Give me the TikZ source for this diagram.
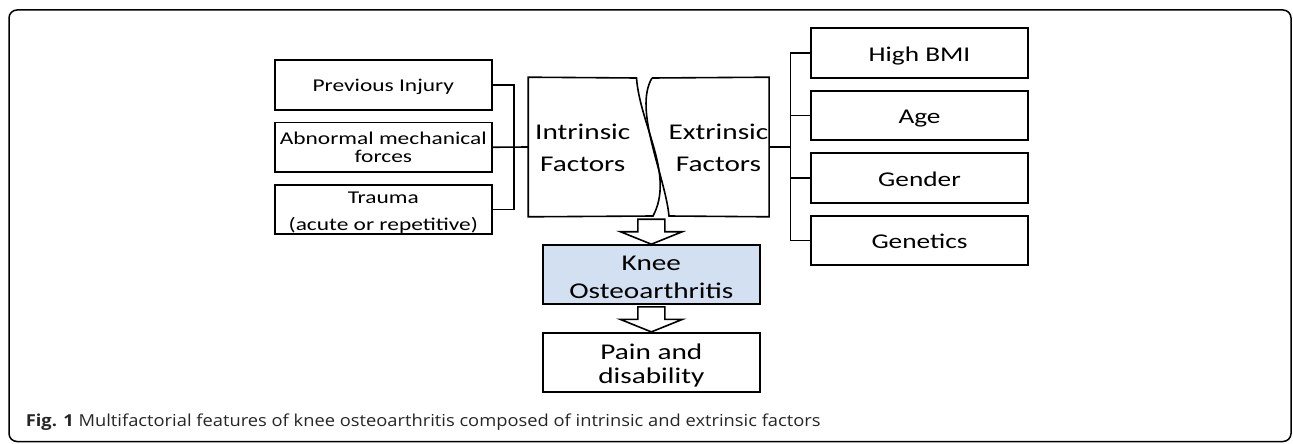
\documentclass[tikz,border=0pt]{standalone}
\usepackage{fontspec}
\usetikzlibrary{calc}

\newfontfamily\boxfont{Carlito}[FakeStretch=1.3]
\newfontfamily\capfont{Open Sans}[FakeStretch=1.11]
\definecolor{kneeblue}{RGB}{210,224,242}

% hollow block arrow ending on a node anchor
\newcommand{\hollowarrow}[1]{%
  \draw[hollow] ($(#1)+(-13.5,-25)$) -- ($(#1)+(13.5,-25)$) -- ($(#1)+(13.5,-12.5)$)
    -- ($(#1)+(31,-12.5)$) -- (#1) -- ($(#1)+(-31,-12.5)$) -- ($(#1)+(-13.5,-12.5)$) -- cycle;}

\begin{document}
\begin{tikzpicture}[x=1pt, y=-1pt, line width=1.6pt, every node/.style={inner sep=0pt},
    cause/.style={draw, rectangle, minimum width=217pt, minimum height=49.5pt, align=center,
      text height=13.4pt, text depth=0pt, font=\boxfont\fontsize{18}{21}\selectfont},
    risk/.style={cause, text height=16.5pt, font=\boxfont\fontsize{21}{24}\selectfont},
    factor/.style={rectangle, minimum height=138pt, align=center, text height=49.4pt,
      text depth=0pt, font=\boxfont\fontsize{22.5}{32.7}\selectfont},
    result/.style={draw, rectangle, minimum width=217.3pt, minimum height=59pt, align=center,
      text height=47.6pt, text depth=0pt, font=\boxfont\fontsize{22.5}{27.6}\selectfont},
    hollow/.style={draw, fill=white, line join=miter}]

      \useasboundingbox (0,0) rectangle (1293,444);

      % Outer frame
      \draw[line width=1.5pt, rounded corners=8pt] (9,10) rectangle (1291,441.5);

      % Intrinsic and extrinsic factors
      \node[factor, minimum width=107.5pt] (intr) at (582.75,147) {Intrinsic\\Factors};
      \node[factor, minimum width=99pt] (extr) at (718.5,147) {Extrinsic\\Factors};
      \draw (intr.north west) -- (636.5,78) .. controls (640,125) and (675,175) .. (653,216)
        -- (intr.south west) -- cycle;
      \draw (652,78) -- (extr.north east) -- (extr.south east) -- (669,216)
        .. controls (665,175) and (633,110) .. (652,78);

      % Intrinsic causes on the left
      \node[cause] (l1) at (383.3,85) {Previous Injury};
      \node[cause, text height=30.1pt] (l2) at (383.3,147.25) {Abnormal mechanical\\[-2.7pt]forces};
      \node[cause, text height=41pt] (l3) at (383.3,209.5) {Trauma\\[5.7pt](acute or repetitive)};

      \coordinate (lbus) at (514,147.25);
      \draw (l1.east) -| (lbus |- l3.east) -- (l3.east);
      \draw (l2.east) -- (intr.west);

      % Extrinsic risks on the right
      \draw (extr.east) -- ++(21.3,0) coordinate (rbus);
      \foreach \i/\txt in {1/High BMI, 2/Age, 3/Gender, 4/Genetics} {
        \node[risk] (r\i) at (919.5, {53+(\i-1)*62.5}) {\txt};
        \draw (rbus |- r\i.west) -- (r\i.west);
      }
      \draw (rbus |- r1.west) -- (rbus |- r4.west);

      % Outcome boxes
      \node[result, fill=kneeblue] (knee) at (651.35,274.5) {Knee\\Osteoarthritis};
      \node[result, text height=42.2pt] (pain) at (651.35,362.2) {Pain and\\[-3.6pt]disability};

      \hollowarrow{knee.north}
      \hollowarrow{pain.north}

      % Caption
      \node[anchor=base west, text=black!85, font=\capfont\fontsize{16.5}{18}\selectfont] (caption)
        at (25,426.7) {\textbf{Fig. 1} Multifactorial features of knee osteoarthritis composed of intrinsic and extrinsic factors};

    \end{tikzpicture}
\end{document}
